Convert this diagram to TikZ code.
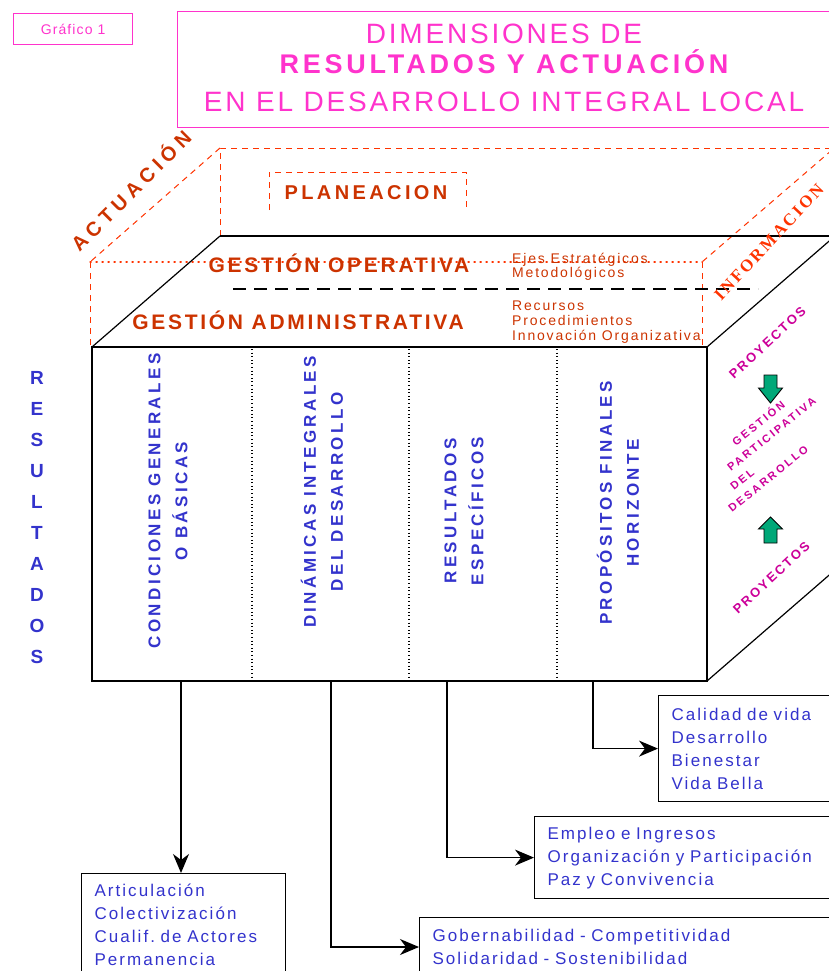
\documentclass[tikz,border=0pt]{standalone}
\usepackage{fontspec}
\setmainfont{Liberation Sans}
\newfontfamily\serifbf{Liberation Serif}
\usetikzlibrary{arrows.meta,calc}
\definecolor{pinkT}{RGB}{255,51,204}
\definecolor{magR}{RGB}{204,0,153}
\definecolor{orD}{RGB}{204,51,0}
\definecolor{orL}{RGB}{255,51,0}
\definecolor{blueT}{RGB}{51,51,204}
\definecolor{greenA}{RGB}{0,168,120}
\newcommand{\fsz}[2]{\fontsize{#1}{#2}\selectfont}
\newcommand{\lsp}[1]{\addfontfeatures{LetterSpace=#1}}
\begin{document}
\begin{tikzpicture}[x=1pt,y=-1pt,
  odash/.style={orL, line width=1pt, dash pattern=on 6pt off 5pt},
  odot/.style={orL, line width=1.2pt, dash pattern=on 1.2pt off 4.8pt, line cap=round},
  vdot/.style={black, line width=1.1pt, dash pattern=on 1pt off 2.6pt},
  edge/.style={black, line width=1.2pt},
  arr/.style={black, line width=1.2pt, -{Stealth[length=19pt,width=16pt,inset=6pt]}},
  gtext/.style={orD, font=\fsz{21}{25}\bfseries\lsp{13}, inner sep=0pt},
  stext/.style={orD, font=\fsz{14}{16}\lsp{13}, inner sep=0pt, anchor=base west},
  coltext/.style={blueT, font=\fsz{17}{27}\bfseries\lsp{20}, align=center, rotate=90, inner sep=0pt},
  rbox/.style={draw, black, line width=1.2pt, anchor=north west, align=left,
    inner xsep=13pt, inner ysep=0pt, text=blueT, font=\fsz{17}{23}\lsp{12}},
  ptext/.style={magR, font=\fsz{13}{15}\bfseries\lsp{17}, inner sep=0pt, anchor=base west, rotate=43},
  qtext/.style={magR, font=\fsz{11}{13}\bfseries\lsp{22}, inner sep=0pt, anchor=base west, rotate=39},
  garrow/.style={fill=greenA, draw=black, line width=0.9pt}
]
\useasboundingbox (0,0) rectangle (829,971);
\clip (0,0) rectangle (829,971);

% ---------- header ----------
\node[draw=pinkT, line width=1.2pt, minimum width=119pt, minimum height=31pt, anchor=north west,
      text=pinkT, font=\fsz{14}{16}\lsp{8}] (graf) at (13,13) {Gráfico 1};
\node[draw=pinkT, line width=1.4pt, minimum width=653pt, minimum height=116pt, anchor=north west,
      inner sep=0pt] (title) at (177,11) {};
\node[pinkT, anchor=base, inner sep=0pt, font=\fsz{28}{30}\lsp{10}] (t1) at (504,44) {DIMENSIONES DE};
\node[pinkT, anchor=base, inner sep=0pt, font=\fsz{27}{30}\bfseries\lsp{14}] (t2) at (504,74) {RESULTADOS Y ACTUACIÓN};
\node[pinkT, anchor=base, inner sep=0pt, font=\fsz{28}{30}\lsp{10}] (t3) at (504,112) {EN EL DESARROLLO INTEGRAL LOCAL};

% ---------- actuación (top volume) ----------
\draw[odash] (220,236) -- (220,148) -- (845,148);
\draw[odash] (220,148) -- (90,262);
\draw[odash] (832,150) -- (702,262);
\draw[odot] (90,262) -- (702,262);
\draw[odash] (90,262) -- (90,347);
\draw[odash] (702,262) -- (702,347);
\draw[odash] (269,210) -- (269,172) -- (466,172) -- (466,210);

\draw[edge] (220,236) -- (845,236);
\draw[edge] (220,236) -- (92,347);
\draw[edge] (707,347) -- (835,236);
\draw[edge] (707,681) -- (835,570);
\draw[black, line width=1.3pt, dash pattern=on 13pt off 8pt] (233,289) -- (758,289);

\node[rotate=45, orD, font=\fsz{20}{24}\bfseries\lsp{25}, inner sep=0pt] (actu) at (130,190) {ACTUACIÓN};
\node[rotate=47, orL, font=\fsz{17}{20}\serifbf\bfseries\lsp{14}, inner sep=0pt] (info) at (769,242) {INFORMACION};
\node[gtext, font=\fsz{20}{24}\bfseries\lsp{17}, anchor=base] (plan) at (366,199) {PLANEACION};
\node[gtext, anchor=base] (gop) at (339,272) {GESTIÓN OPERATIVA};
\node[gtext, anchor=base] (gad) at (298,329) {GESTIÓN ADMINISTRATIVA};
\node[stext] (s1) at (512,263) {Ejes Estratégicos};
\node[stext] (s2) at (512,277) {Metodológicos};
\node[stext] (s3) at (512,310) {Recursos};
\node[stext] (s4) at (512,325) {Procedimientos};
\node[stext] (s5) at (512,340) {Innovación Organizativa};

% ---------- front box ----------
\node[draw, line width=1.3pt, minimum width=615pt, minimum height=334pt, inner sep=0pt] (front) at (399.5,514) {};
\draw[vdot] (252,349) -- (252,680);
\draw[vdot] (409,349) -- (409,680);
\draw[vdot] (557,349) -- (557,680);

\node[coltext] (col1) at (168,501) {CONDICIONES GENERALES\\O BÁSICAS};
\node[coltext] (col2) at (322,492) {DINÁMICAS INTEGRALES\\DEL DESARROLLO};
\node[coltext] (col3) at (464,511) {RESULTADOS\\ESPECÍFICOS};
\node[coltext] (col4) at (618,503) {PROPÓSITOS FINALES\\HORIZONTE};

\node[blueT, font=\fsz{19}{31}\bfseries, align=center, inner sep=0pt] (resul) at (37,518)
  {R\\E\\S\\U\\L\\T\\A\\D\\O\\S};

% ---------- right face ----------
\node[ptext] (p1) at (734,380) {PROYECTOS};
\node[ptext] (p2) at (738,615) {PROYECTOS};
\node[qtext] (q1) at (736,447) {GESTIÓN};
\node[qtext] (q2) at (731,472) {PARTICIPATIVA};
\node[qtext] (q3) at (734,491) {DEL};
\node[qtext] (q4) at (732,513) {DESARROLLO};
\draw[garrow] (764,375) -- (777,375) -- (777,388) -- (782.5,388) -- (770.5,403) -- (758.5,388) -- (764,388) -- cycle;
\draw[garrow] (770.5,517) -- (782.5,529) -- (777,529) -- (777,543) -- (764,543) -- (764,529) -- (758.5,529) -- cycle;

% ---------- result boxes ----------
\node[rbox, minimum width=204pt, minimum height=103pt, text width=178pt] (boxA) at (81,873)
  {Articulación\\Colectivización\\Cualif.~de~Actores\\Permanencia};
\node[rbox, minimum width=200pt, minimum height=106pt, text width=174pt] (boxB) at (658,695)
  {Calidad~de~vida\\Desarrollo\\Bienestar\\Vida~Bella};
\node[rbox, minimum width=320pt, minimum height=82pt, text width=294pt] (boxC) at (534,816)
  {Empleo~e~Ingresos\\Organización~y~Participación\\Paz~y~Convivencia};
\node[rbox, minimum width=420pt, minimum height=58pt, text width=394pt] (boxD) at (419,917)
  {Gobernabilidad~-~Competitividad\\Solidaridad~-~Sostenibilidad};

\coordinate (c1) at (181,681);
\coordinate (c2) at (331,681);
\coordinate (c3) at (447,681);
\coordinate (c4) at (593,681);
\draw[arr] (c1) -- (c1 |- boxA.north);
\draw[arr] (c2) |- ([yshift=-30pt]boxD.north west);
\draw[arr] (c3) |- (boxC.west);
\draw[arr] (c4) |- (boxB.west);
\end{tikzpicture}
\end{document}
